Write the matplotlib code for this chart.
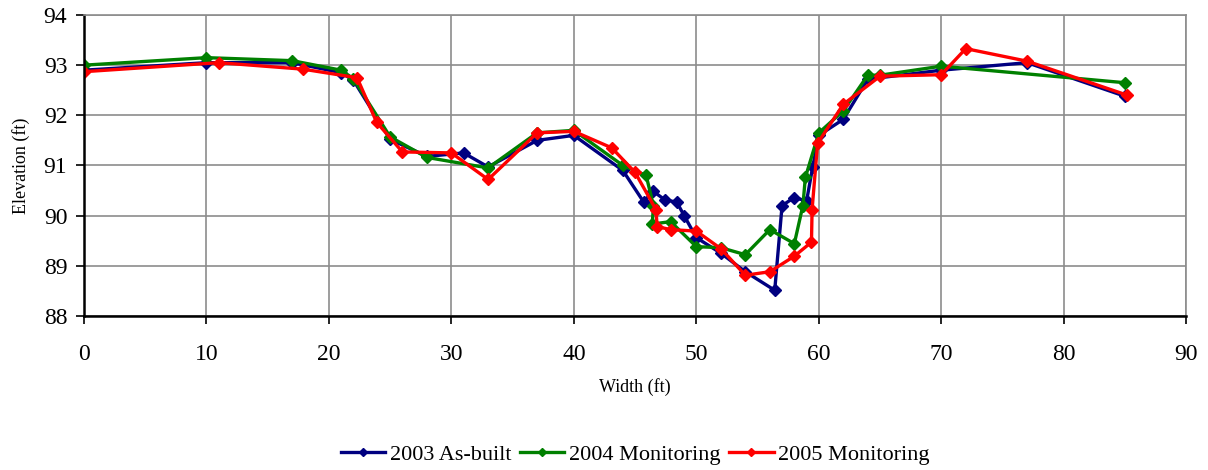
import numpy as np
import matplotlib.pyplot as plt

plt.rcParams['font.family'] = ['Liberation Serif', 'DejaVu Serif']

# 2003 As-built
x03 = [0, 10, 17, 21, 22, 25, 28, 31, 33, 37, 40, 44, 45.7, 46.45, 47.45, 48.4, 49, 50,
       52, 54, 56.4, 57, 58, 59, 59.5, 60, 62, 64, 70, 77, 85]
y03 = [92.9, 93.05, 93.05, 92.85, 92.7, 91.52, 91.18, 91.25, 90.97, 91.5, 91.6, 90.9, 90.27,
       90.49, 90.31, 90.27, 90.0, 89.56, 89.25, 88.88, 88.51, 90.2, 90.36, 90.29, 90.97, 91.6,
       91.92, 92.72, 92.9, 93.05, 92.38]

# 2004 Monitoring
x04 = [0, 10, 17, 21, 22, 25, 28, 33, 37, 40, 44, 45.9, 46.5, 46.4, 47.9, 50, 52, 54, 56,
       58, 58.7, 58.9, 60, 62, 64, 65, 70, 85]
y04 = [93.0, 93.15, 93.09, 92.9, 92.73, 91.57, 91.16, 90.95, 91.65, 91.7, 91.0, 90.8, 90.2,
       89.83, 89.88, 89.38, 89.36, 89.22, 89.72, 89.44, 90.2, 90.76, 91.65, 92.09, 92.8, 92.8,
       92.98, 92.65]

# 2005 Monitoring
x05 = [0, 11, 17.9, 22.3, 23.9, 26, 30, 33, 37, 40, 43.1, 45, 46.7, 46.8, 47.9, 50, 52, 54,
       56, 58, 59.4, 59.45, 59.9, 62, 65, 70, 72, 77, 85.2]
y05 = [92.87, 93.05, 92.92, 92.75, 91.86, 91.27, 91.25, 90.72, 91.65, 91.68, 91.35, 90.86,
       90.12, 89.78, 89.72, 89.69, 89.34, 88.81, 88.88, 89.19, 89.47, 90.12, 91.44, 92.22,
       92.78, 92.81, 93.33, 93.08, 92.4]

fig = plt.figure(figsize=(12.08, 4.70), dpi=100)
ax = fig.add_axes([0.0695, 0.328, 0.9125, 0.64])

ax.plot(x03, y03, color='#000080', marker='D', markersize=6, lw=2.4, label='2003 As-built')
ax.plot(x04, y04, color='#008000', marker='D', markersize=6, lw=2.4, label='2004 Monitoring')
ax.plot(x05, y05, color='#ff0000', marker='D', markersize=6, lw=2.4, label='2005 Monitoring')

ax.set_xlim(0, 90)
ax.set_ylim(88, 94)
ax.set_xticks(np.arange(0, 91, 10))
ax.set_yticks(np.arange(88, 95, 1))
ax.grid(True, color='#8c8c8c', lw=1.2)
ax.set_axisbelow(True)
ax.tick_params(labelsize=17, direction='out', length=6, width=1.2)
ax.tick_params(axis='x', pad=14)
ax.tick_params(axis='y', pad=6)
for s in ['left', 'bottom']:
    ax.spines[s].set_linewidth(1.8)
    ax.spines[s].set_color('black')
for s in ['top', 'right']:
    ax.spines[s].set_color('#8c8c8c')
    ax.spines[s].set_linewidth(1.2)

ax.set_xlabel('Width (ft)', fontsize=13, labelpad=10)
ax.set_ylabel('Elevation (ft)', fontsize=13, labelpad=10)

ax.legend(loc='upper center', bbox_to_anchor=(0.5, -0.36), ncol=3, frameon=False,
          fontsize=16, handlelength=2.0, handletextpad=0.2, columnspacing=0.4,
          markerscale=0.7)

fig.savefig('out.png', dpi=100)
